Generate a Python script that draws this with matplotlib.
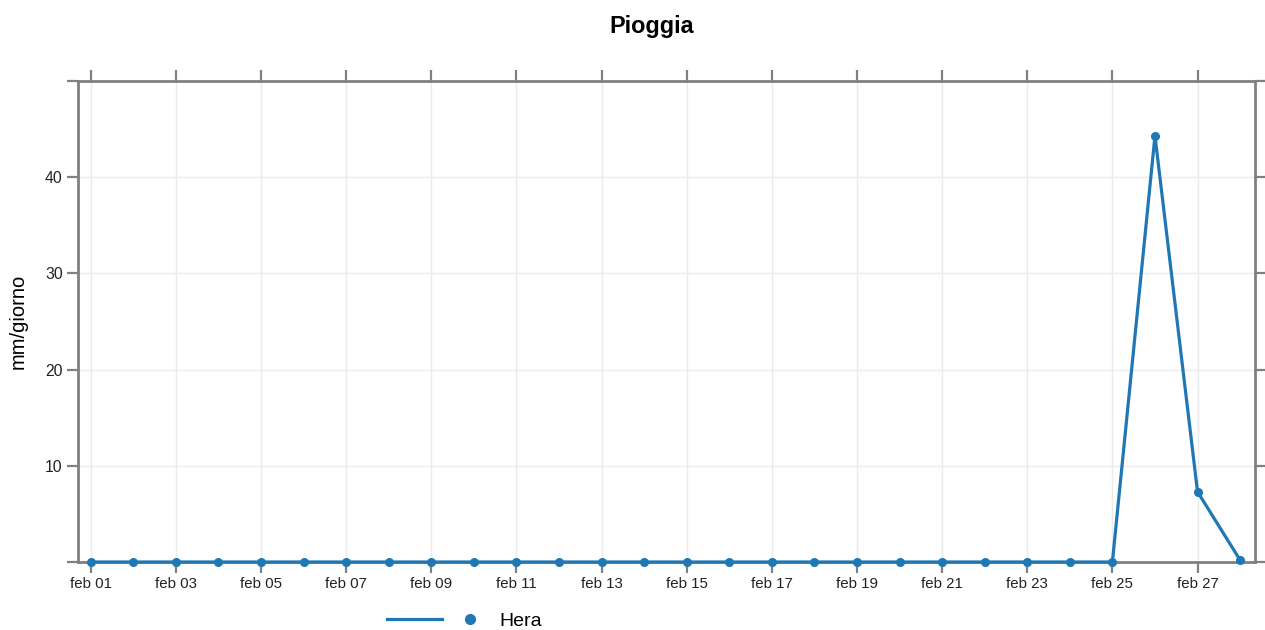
import matplotlib
matplotlib.use('Agg')
import matplotlib.pyplot as plt
from matplotlib.lines import Line2D
from matplotlib.legend_handler import HandlerTuple

plt.rcParams['font.family'] = ['Liberation Sans', 'DejaVu Sans']

# dati: pioggia giornaliera febbraio
days = list(range(1, 29))
rain = [0.0] * 25 + [44.3, 7.3, 0.2]
tick_days = list(range(1, 29, 2))
tick_labels = ['feb %02d' % d for d in tick_days]
y_ticks = [0, 10, 20, 30, 40, 50]
y_labels = ['', '10', '20', '30', '40', '']

blue = '#1f77b4'
frame = '#808080'

fig = plt.figure(figsize=(12.65, 6.3), dpi=100)
ax = fig.add_axes([78 / 1265, 68 / 630, 1177 / 1265, 481 / 630])

ax.plot(days, rain, color=blue, lw=2.3, marker='o', ms=5.5, zorder=3, clip_on=False)

ax.set_xlim(0.7, 28.35)
ax.set_ylim(0, 50)
ax.set_xticks(tick_days)
ax.set_xticklabels(tick_labels, fontsize=10.8)
ax.set_yticks(y_ticks)
ax.set_yticklabels(y_labels, fontsize=11.3)

ax.grid(True, color='#ebebeb', lw=1)
ax.set_axisbelow(True)

for s in ax.spines.values():
    s.set_color(frame)
    s.set_linewidth(2)

ax.tick_params(axis='both', which='both', direction='out', length=8, width=1.6,
               color=frame, top=True, right=True, labeltop=False, labelright=False,
               labelcolor='#222222', pad=3)

fig.text(18 / 1265, 1 - 321 / 630, 'mm/giorno', rotation=90, ha='center', va='center',
         fontsize=14.5)
fig.text(652 / 1265, 1 - 27 / 630, 'Pioggia', ha='center', va='center',
         fontsize=16.8, fontweight='bold')

# legenda in basso
h_line = Line2D([], [], color=blue, lw=2.3)
h_dot = Line2D([], [], color=blue, marker='o', ms=7, ls='none')
fig.legend(handles=[(h_line, h_dot)], labels=['Hera'],
           handler_map={tuple: HandlerTuple(ndivide=None, pad=0)},
           loc='center left', bbox_to_anchor=(387 / 1265, 1 - 621 / 630),
           frameon=False, fontsize=14, handlelength=5.7, handletextpad=0.1,
           borderpad=0, borderaxespad=0)

fig.savefig('out.png', dpi=100)
